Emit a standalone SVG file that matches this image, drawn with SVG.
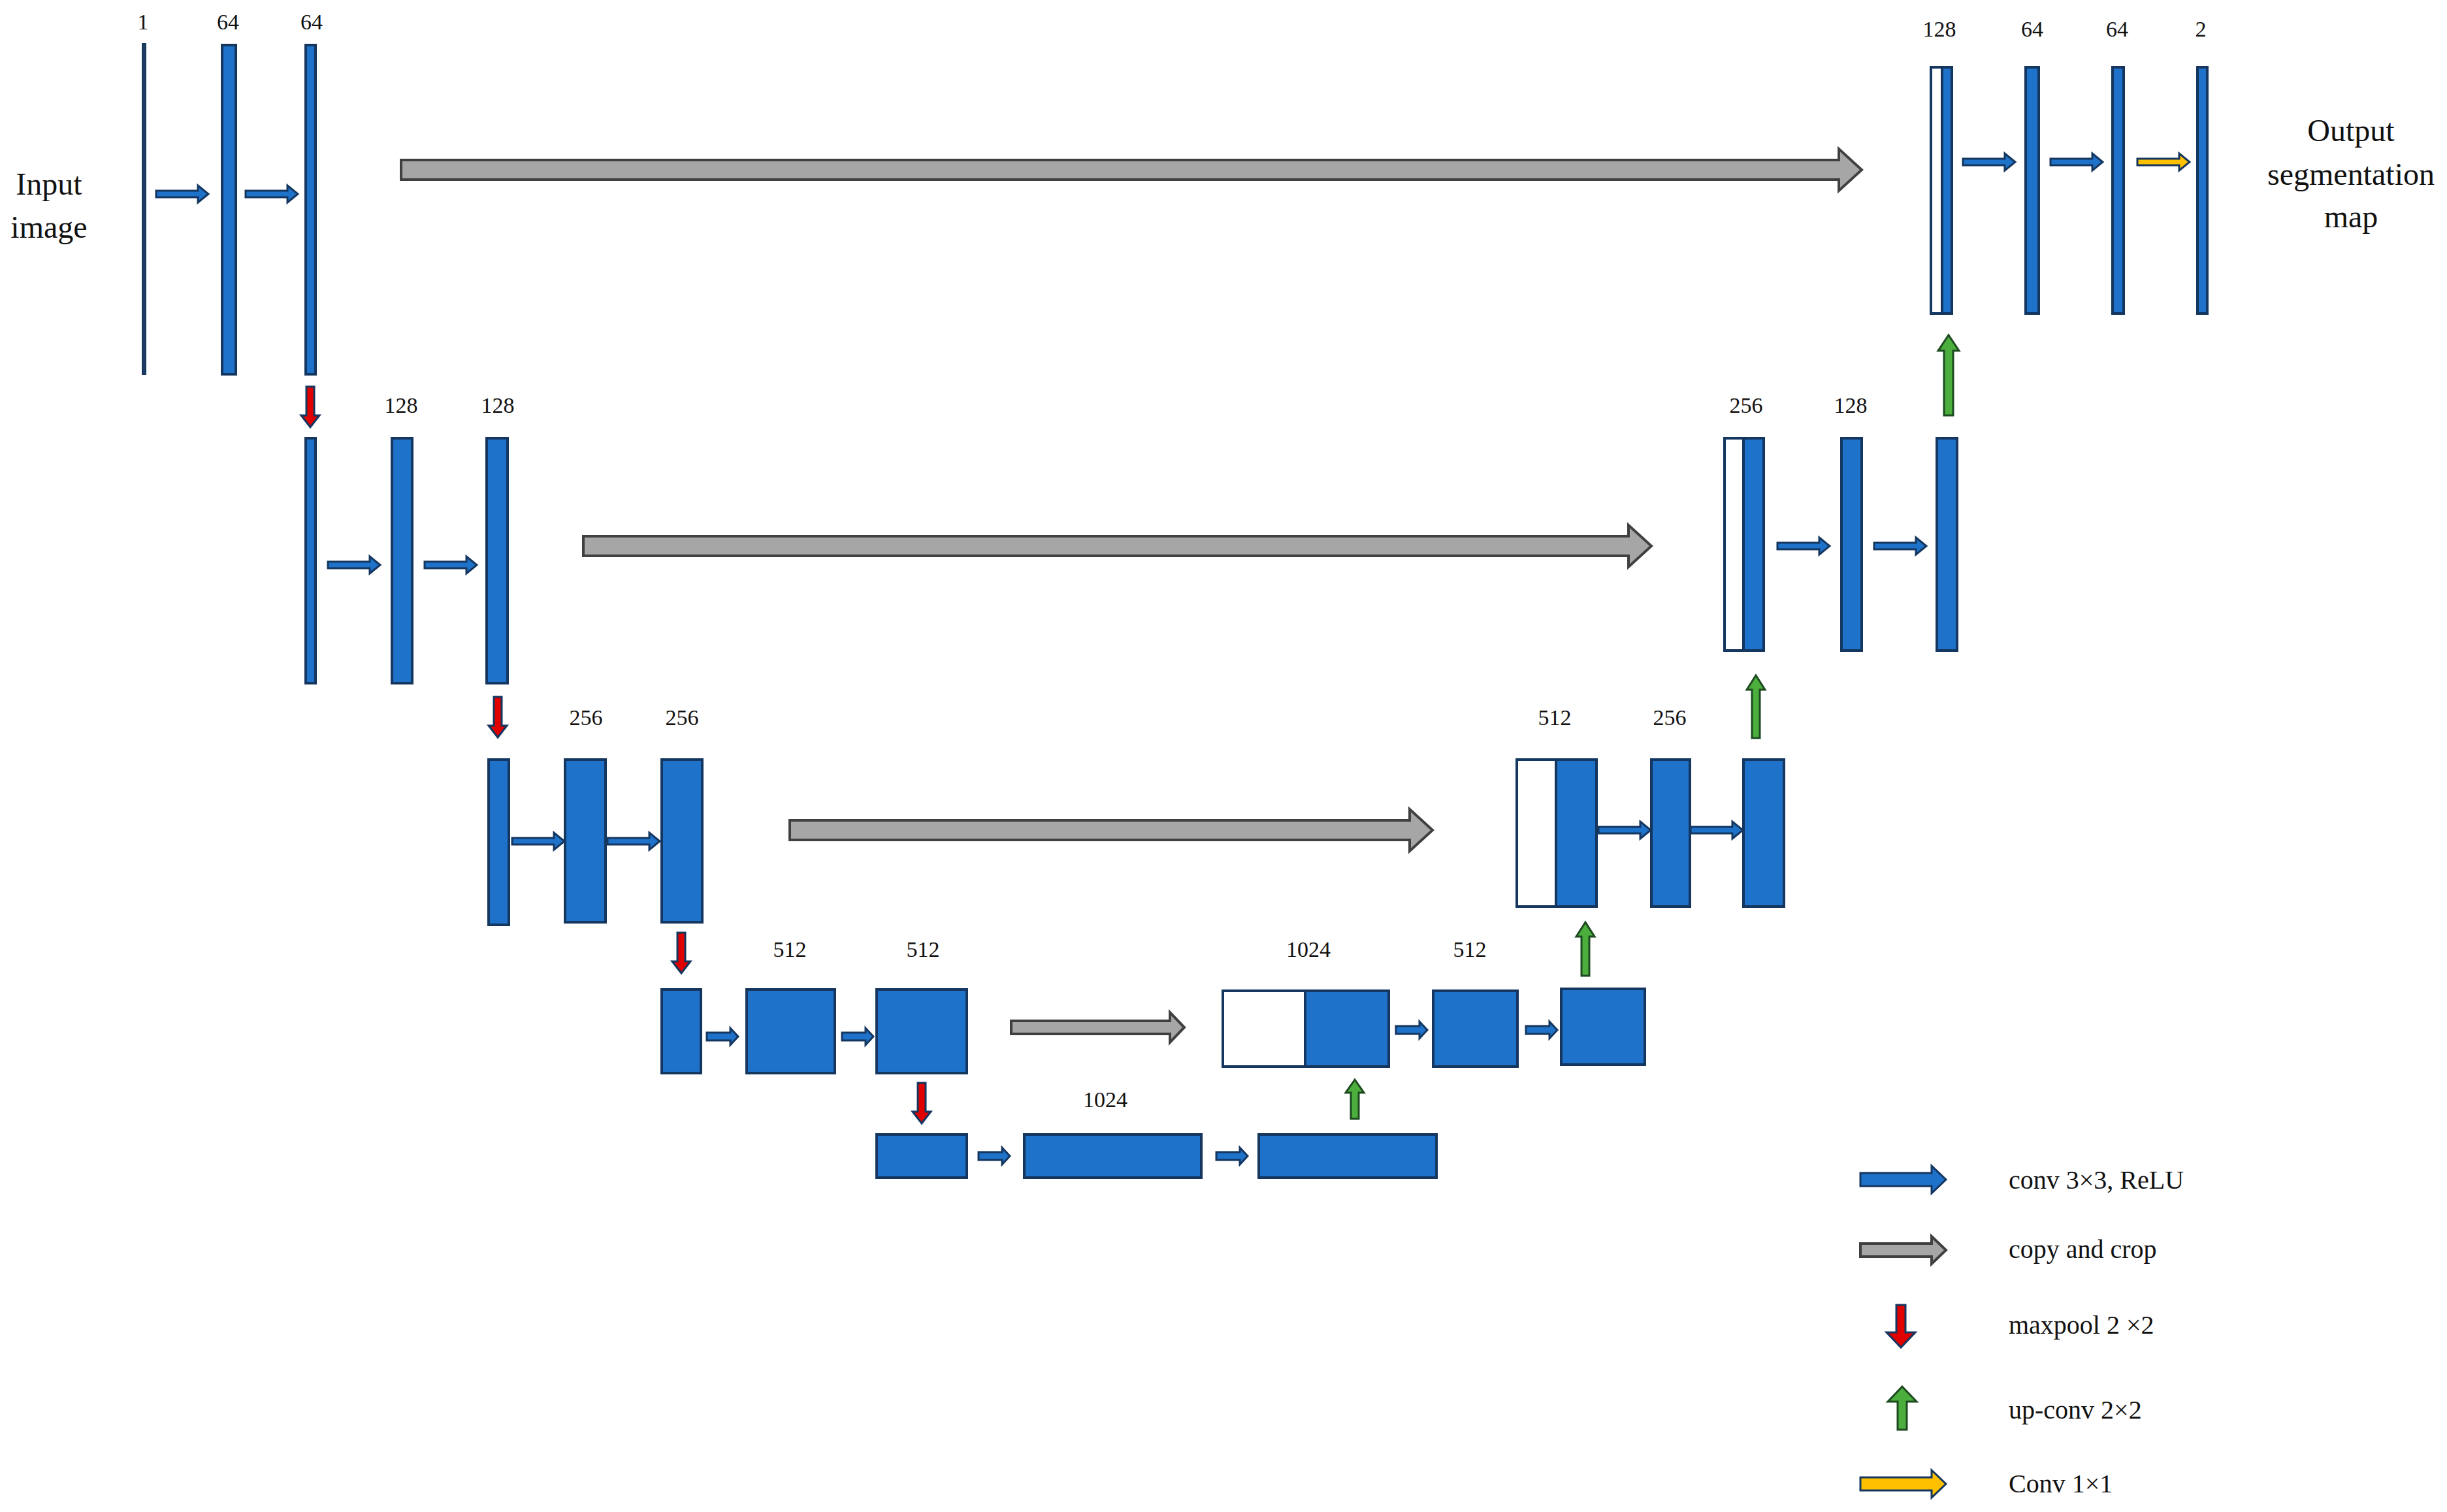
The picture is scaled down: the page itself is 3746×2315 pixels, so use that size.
<svg xmlns="http://www.w3.org/2000/svg" xmlns:xlink="http://www.w3.org/1999/xlink" width="3746" height="2315" viewBox="0 0 3746 2315">
<style>
.b{fill:#1f72c9;stroke:#14365f;stroke-width:4}
.w{fill:#fff;stroke:#14365f;stroke-width:4}
.n{fill:#1f3a63;stroke:#14365f;stroke-width:2}
.ca{fill:#1f72c9;stroke:#14365f;stroke-width:3}
.ga{fill:#a6a6a6;stroke:#404040;stroke-width:4}
.ra{fill:#e00000;stroke:#14365f;stroke-width:3}
.gr{fill:#4cae3c;stroke:#1d4a20;stroke-width:3}
.ya{fill:#ffc000;stroke:#14365f;stroke-width:3}
text{font-family:"Liberation Serif","Times New Roman",serif;fill:#111}
.l{font-size:34px;text-anchor:middle}
.t{font-size:48px;text-anchor:middle}
.g{font-size:40px}
</style>
<defs>
<path id="c80" d="M0,-5 H64 V-13 L80,0 L64,13 V5 H0Z"/>
<path id="c48" d="M0,-6 H36 V-13 L48,0 L36,13 V6 H0Z"/>
<path id="rd" d="M-6,0 V44 H-14 L0,62 L14,44 H6 V0Z"/>
</defs>
<g id="labels">
<text class="t" x="75" y="298">Input</text>
<text class="t" x="75" y="364">image</text>
<text class="t" x="3599" y="216">Output</text>
<text class="t" x="3599" y="283">segmentation</text>
<text class="t" x="3599" y="348">map</text>
</g>
<g id="enc1">
<rect class="n" x="218" y="67" width="5" height="506"/>
<rect class="b" x="340" y="69" width="21" height="504"/>
<rect class="b" x="468" y="69" width="15" height="504"/>
<text class="l" x="219" y="45">1</text><text class="l" x="349" y="45">64</text><text class="l" x="477" y="45">64</text>
</g>
<g id="enc2">
<rect class="b" x="468" y="671" width="15" height="375"/>
<rect class="b" x="600" y="671" width="31" height="375"/>
<rect class="b" x="745" y="671" width="32" height="375"/>
<text class="l" x="614" y="632">128</text><text class="l" x="762" y="632">128</text>
</g>
<g id="enc3">
<rect class="b" x="748" y="1163" width="31" height="253"/>
<rect class="b" x="865" y="1163" width="62" height="249"/>
<rect class="b" x="1013" y="1163" width="62" height="249"/>
<text class="l" x="897" y="1110">256</text><text class="l" x="1044" y="1110">256</text>
</g>
<g id="enc4">
<rect class="b" x="1013" y="1515" width="60" height="128"/>
<rect class="b" x="1143" y="1515" width="135" height="128"/>
<rect class="b" x="1342" y="1515" width="138" height="128"/>
<text class="l" x="1209" y="1465">512</text><text class="l" x="1413" y="1465">512</text>
</g>
<g id="bottleneck">
<rect class="b" x="1342" y="1737" width="138" height="66"/>
<rect class="b" x="1568" y="1737" width="271" height="66"/>
<rect class="b" x="1927" y="1737" width="272" height="66"/>
<text class="l" x="1692" y="1695">1024</text>
</g>
<g id="dec4">
<rect class="w" x="1872" y="1517" width="126" height="116"/>
<rect class="b" x="1998" y="1517" width="128" height="116"/>
<rect class="b" x="2194" y="1517" width="129" height="116"/>
<rect class="b" x="2390" y="1514" width="128" height="116"/>
<text class="l" x="2003" y="1465">1024</text><text class="l" x="2250" y="1465">512</text>
</g>
<g id="dec3">
<rect class="w" x="2322" y="1163" width="60" height="225"/>
<rect class="b" x="2382" y="1163" width="62" height="225"/>
<rect class="b" x="2528" y="1163" width="59" height="225"/>
<rect class="b" x="2669" y="1163" width="62" height="225"/>
<text class="l" x="2380" y="1110">512</text><text class="l" x="2556" y="1110">256</text>
</g>
<g id="dec2">
<rect class="w" x="2640" y="671" width="29" height="325"/>
<rect class="b" x="2669" y="671" width="31" height="325"/>
<rect class="b" x="2819" y="671" width="31" height="325"/>
<rect class="b" x="2965" y="671" width="31" height="325"/>
<text class="l" x="2673" y="632">256</text><text class="l" x="2833" y="632">128</text>
</g>
<g id="dec1">
<rect class="w" x="2956" y="103" width="17" height="377"/>
<rect class="b" x="2973" y="103" width="15" height="377"/>
<rect class="b" x="3101" y="103" width="20" height="377"/>
<rect class="b" x="3234" y="103" width="17" height="377"/>
<rect class="b" x="3364" y="103" width="15" height="377"/>
<text class="l" x="2969" y="56">128</text><text class="l" x="3111" y="56">64</text><text class="l" x="3241" y="56">64</text><text class="l" x="3369" y="56">2</text>
</g>
<g id="connectors">
<use href="#c80" class="ca" x="239" y="297"/>
<use href="#c80" class="ca" x="376" y="297"/>
<use href="#c80" class="ca" x="502" y="865"/>
<use href="#c80" class="ca" x="650" y="865"/>
<use href="#c80" class="ca" x="784" y="1288"/>
<use href="#c80" class="ca" x="930" y="1288"/>
<use href="#c48" class="ca" x="1082" y="1587"/>
<use href="#c48" class="ca" x="1289" y="1587"/>
<use href="#c48" class="ca" x="1498" y="1770"/>
<use href="#c48" class="ca" x="1862" y="1770"/>
<use href="#c48" class="ca" x="2137" y="1577"/>
<use href="#c48" class="ca" x="2336" y="1577"/>
<use href="#c80" class="ca" x="2447" y="1271"/>
<use href="#c80" class="ca" x="2588" y="1271"/>
<use href="#c80" class="ca" x="2721" y="836"/>
<use href="#c80" class="ca" x="2869" y="836"/>
<use href="#c80" class="ca" x="3005" y="248"/>
<use href="#c80" class="ca" x="3139" y="248"/>
<use href="#c80" class="ya" x="3272" y="248"/>
<use href="#rd" class="ra" x="475" y="592"/>
<use href="#rd" class="ra" x="762" y="1067"/>
<use href="#rd" class="ra" x="1043" y="1428"/>
<use href="#rd" class="ra" x="1411" y="1658"/>
<path class="gr" d="M2074,1653 L2088,1673 H2080 V1713 H2068 V1673 H2060Z"/>
<path class="gr" d="M2427,1412 L2441,1434 H2433 V1494 H2421 V1434 H2413Z"/>
<path class="gr" d="M2688,1034 L2702,1056 H2694 V1130 H2682 V1056 H2674Z"/>
<path class="gr" d="M2983,513 L2999,537 H2990 V636 H2976 V537 H2967Z"/>
<path class="ga" d="M614,245 H2815 V228 L2850,260 L2815,292 V275 H614Z"/>
<path class="ga" d="M893,821 H2493 V804 L2528,836 L2493,868 V851 H893Z"/>
<path class="ga" d="M1209,1256 H2158 V1239 L2193,1271 L2158,1303 V1286 H1209Z"/>
<path class="ga" d="M1548,1563 H1791 V1550 L1813,1573 L1791,1596 V1583 H1548Z"/>
</g>
<g id="legend">
<path class="ca" d="M2848,1796 H2957 V1785 L2979,1806 L2957,1827 V1816 H2848Z"/>
<path class="ga" d="M2848,1904 H2957 V1893 L2979,1914 L2957,1935 V1924 H2848Z"/>
<path class="ra" d="M2903,1998 H2917 V2040 H2932 L2910,2063 L2888,2040 H2903Z"/>
<path class="gr" d="M2912,2123 L2934,2146 H2919 V2189 H2905 V2146 H2890Z"/>
<path class="ya" d="M2848,2262 H2957 V2251 L2979,2272 L2957,2293 V2282 H2848Z"/>
<text class="g" x="3075" y="1820">conv 3×3, ReLU</text>
<text class="g" x="3075" y="1926">copy and crop</text>
<text class="g" x="3075" y="2042">maxpool 2 ×2</text>
<text class="g" x="3075" y="2172">up-conv 2×2</text>
<text class="g" x="3075" y="2285">Conv 1×1</text>
</g>
</svg>
